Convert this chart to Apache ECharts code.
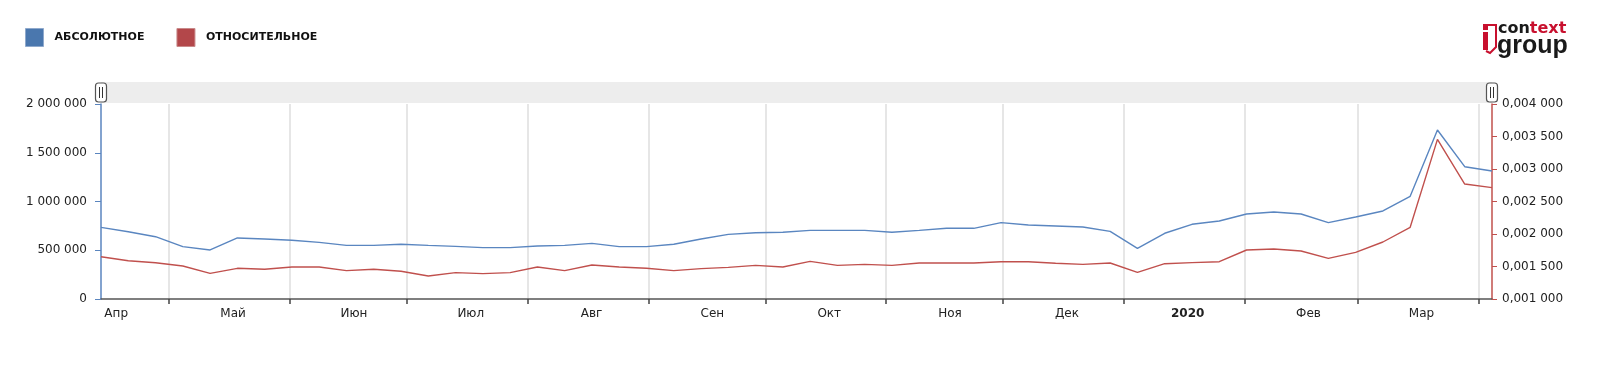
<!DOCTYPE html>
<html><head><meta charset="utf-8">
<script src="https://cdn.jsdelivr.net/npm/echarts@6/dist/echarts.min.js"></script>
<style>html,body{margin:0;padding:0;background:#fff}#chart{width:1600px;height:369px}</style>
</head><body><div id="chart"></div>
<script>
// ---- data ----
const weeks = [
  '2019-04-13','2019-04-20','2019-04-27','2019-05-04','2019-05-11','2019-05-18','2019-05-25',
  '2019-06-01','2019-06-08','2019-06-15','2019-06-22','2019-06-29','2019-07-06','2019-07-13',
  '2019-07-20','2019-07-27','2019-08-03','2019-08-10','2019-08-17','2019-08-24','2019-08-31',
  '2019-09-07','2019-09-14','2019-09-21','2019-09-28','2019-10-05','2019-10-12','2019-10-19',
  '2019-10-26','2019-11-02','2019-11-09','2019-11-16','2019-11-23','2019-11-30','2019-12-07',
  '2019-12-14','2019-12-21','2019-12-28','2020-01-04','2020-01-11','2020-01-18','2020-01-25',
  '2020-02-01','2020-02-08','2020-02-15','2020-02-22','2020-02-29','2020-03-07','2020-03-14',
  '2020-03-21','2020-03-28','2020-04-04'
];
const absolute = [
  735000,690000,639000,537000,503000,626000,615000,602000,581000,550000,550000,561000,550000,
  540000,527000,527000,544000,550000,571000,537000,537000,561000,615000,663000,680000,684000,
  704000,704000,704000,684000,704000,725000,725000,783000,759000,749000,738000,694000,520000,
  674000,766000,800000,872000,892000,872000,783000,841000,903000,1053000,1733000,1357000,1313000
];
const relative = [
  0.001651,0.001589,0.001558,0.001508,0.001395,0.001472,0.001457,0.001492,0.001492,0.001436,
  0.001457,0.001426,0.001354,0.001405,0.001390,0.001405,0.001492,0.001436,0.001523,0.001492,
  0.001472,0.001436,0.001467,0.001487,0.001518,0.001492,0.001579,0.001518,0.001533,0.001518,
  0.001554,0.001554,0.001554,0.001574,0.001574,0.001549,0.001533,0.001554,0.001410,0.001543,
  0.001559,0.001574,0.001754,0.001769,0.001738,0.001626,0.001718,0.001877,0.002103,0.003456,
  0.002769,0.002713
];
const monthStarts = ['2019-05-01','2019-06-01','2019-07-01','2019-08-01','2019-09-01','2019-10-01',
  '2019-11-01','2019-12-01','2020-01-01','2020-02-01','2020-03-01','2020-04-01'];
const labelMonths = ['2019-04-01','2019-05-01','2019-06-01','2019-07-01','2019-08-01','2019-09-01',
  '2019-10-01','2019-11-01','2019-12-01','2020-01-01','2020-02-01','2020-03-01'];
const monthLabels = ['Апр','Май','Июн','Июл','Авг','Сен','Окт','Ноя','Дек','2020','Фев','Мар'];
const seriesNames = ['АБСОЛЮТНОЕ','ОТНОСИТЕЛЬНОЕ'];

// ---- layout ----
const DAY = 86400000;
const LABEL_SHIFT = 16.4 * DAY;
const GL = 101, GR = 1492, GT = 104, GB = 299;
const FONT = 'DejaVu Sans';

const toTs = s => Date.parse(s + 'T12:00:00Z');
const xs = weeks.map(toTs);
const tickVals = monthStarts.map(s => Date.parse(s + 'T00:00:00Z'));
const labelVals = labelMonths.map(s => Date.parse(s + 'T00:00:00Z') + LABEL_SHIFT);

const fmtAbs = v => String(Math.round(v)).replace(/\B(?=(\d{3})+(?!\d))/g, ' ');
const fmtRel = v => { const s = v.toFixed(6).split('.'); return s[0] + ',' + s[1].slice(0,3) + ' ' + s[1].slice(3); };

function handle(cx) {
  return {
    type: 'group', children: [
      { type: 'rect', shape: { x: cx - 5.5, y: 83, width: 11, height: 19, r: 3 },
        style: { fill: '#fff', stroke: '#555', lineWidth: 1.2 }, z: 10 },
      { type: 'line', shape: { x1: cx - 1.5, y1: 87, x2: cx - 1.5, y2: 98 }, style: { stroke: '#333', lineWidth: 1 }, z: 11 },
      { type: 'line', shape: { x1: cx + 1.5, y1: 87, x2: cx + 1.5, y2: 98 }, style: { stroke: '#333', lineWidth: 1 }, z: 11 }
    ]
  };
}

const chart = echarts.init(document.getElementById('chart'), null, { renderer: 'canvas' });
chart.setOption({
  animation: false,
  backgroundColor: '#fff',
  textStyle: { fontFamily: FONT },
  legend: {
    left: 20, top: 23, itemWidth: 18, itemHeight: 18, itemGap: 32, icon: 'rect',
    selectedMode: false,
    textStyle: { fontFamily: FONT, fontSize: 11, fontWeight: 'bold', color: '#111', padding: [0, 0, 0, 6] },
    data: [
      { name: seriesNames[0], itemStyle: { color: '#4a77ae', borderColor: '#8fa9cc', borderWidth: 1 } },
      { name: seriesNames[1], itemStyle: { color: '#b3474a', borderColor: '#c98a8a', borderWidth: 1 } }
    ]
  },
  grid: { left: GL, right: 1600 - GR, top: GT, bottom: 369 - GB, containLabel: false },
  xAxis: {
    type: 'value', min: xs[0], max: xs[xs.length - 1], scale: true,
    axisLine: { show: true, onZero: false, lineStyle: { color: '#555', width: 1.5 } },
    axisTick: { show: true, length: 5, lineStyle: { color: '#444', width: 1.5 }, customValues: tickVals },
    splitLine: { show: true, lineStyle: { color: '#dedede', width: 1.5 } },
    axisLabel: {
      customValues: labelVals, margin: 9, fontFamily: FONT, fontSize: 12, color: '#222',
      showMinLabel: true, showMaxLabel: true, hideOverlap: false,
      formatter: function (v) {
        const i = labelVals.findIndex(t => Math.abs(t - v) < DAY);
        if (i < 0) return '';
        const t = monthLabels[i];
        return /^\d+$/.test(t) ? '{b|' + t + '}' : t;
      },
      rich: { b: { fontFamily: FONT, fontSize: 12, fontWeight: 'bold', color: '#222' } }
    }
  },
  yAxis: [
    {
      type: 'value', min: 0, max: 2000000, interval: 500000, position: 'left',
      axisLine: { show: true, lineStyle: { color: '#5a85bf', width: 1.5 } },
      axisTick: { show: true, length: 6, lineStyle: { color: '#5a85bf' } },
      splitLine: { show: false },
      axisLabel: { margin: 14, fontFamily: FONT, fontSize: 12, color: '#222', formatter: fmtAbs }
    },
    {
      type: 'value', min: 0.001, max: 0.004, interval: 0.0005, position: 'right',
      axisLine: { show: true, lineStyle: { color: '#c0504d', width: 1.5 } },
      axisTick: { show: true, length: 5, lineStyle: { color: '#c0504d' } },
      splitLine: { show: false },
      axisLabel: { margin: 10, fontFamily: FONT, fontSize: 12, color: '#222', formatter: fmtRel }
    }
  ],
  series: [
    {
      name: seriesNames[0], type: 'line', yAxisIndex: 0, showSymbol: false, symbol: 'none',
      data: xs.map((t, i) => [t, absolute[i]]),
      itemStyle: { color: '#4a77ae' },
      lineStyle: { color: '#5a86c0', width: 1.4 }, z: 3
    },
    {
      name: seriesNames[1], type: 'line', yAxisIndex: 1, showSymbol: false, symbol: 'none',
      data: xs.map((t, i) => [t, relative[i]]),
      itemStyle: { color: '#b3474a' },
      lineStyle: { color: '#c0504d', width: 1.4 }, z: 4
    }
  ],
  graphic: [
    { type: 'rect', shape: { x: GL, y: 82, width: GR - GL, height: 21 }, style: { fill: '#ededed' }, z: 5 },
    handle(GL), handle(GR),
    // logo
    { type: 'rect', shape: { x: 1483, y: 24, width: 5, height: 6 }, style: { fill: '#c8102e' } },
    { type: 'rect', shape: { x: 1483, y: 32, width: 5, height: 18 }, style: { fill: '#c8102e' } },
    { type: 'polyline', shape: { points: [[1488, 25], [1496, 25], [1496, 47], [1490, 53], [1486, 51]] },
      style: { stroke: '#c8102e', lineWidth: 2, fill: null } },
    { type: 'text', x: 1498, y: 37, style: {
        text: '{a|con}{r|text}', verticalAlign: 'bottom',
        rich: { a: { fontFamily: FONT, fontSize: 16, fontWeight: 'bold', fill: '#1a1a1a' },
                r: { fontFamily: FONT, fontSize: 16, fontWeight: 'bold', fill: '#c8102e' } } } },
    { type: 'text', x: 1497, y: 34, style: {
        text: 'group', fontFamily: 'Liberation Sans', fontSize: 25, fontWeight: 'bold', fill: '#1a1a1a', verticalAlign: 'top' } }
  ]
});
</script>
</body></html>
